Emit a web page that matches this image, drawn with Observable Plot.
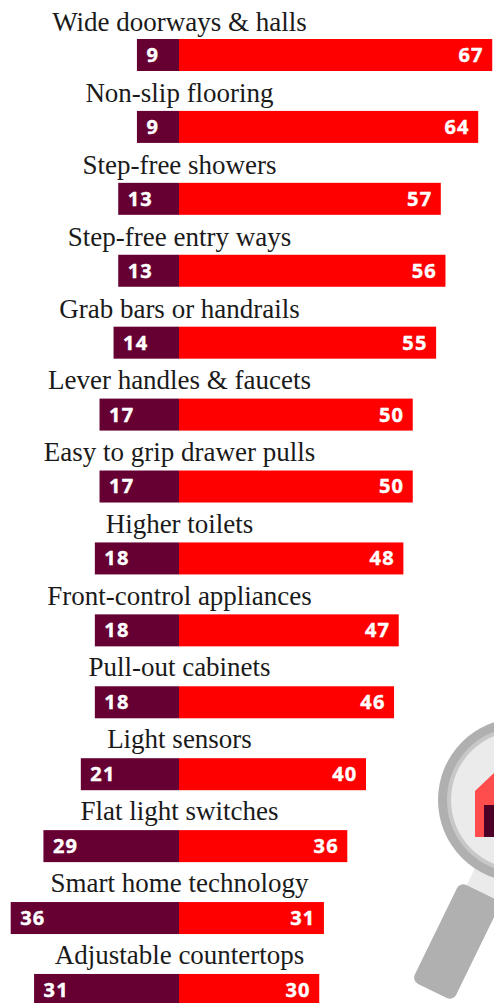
<!DOCTYPE html>
<html><head><meta charset="utf-8">
<script src="https://cdn.jsdelivr.net/npm/d3@7"></script>
<script src="https://cdn.jsdelivr.net/npm/@observablehq/plot@0.6"></script>
<style>html,body{margin:0;padding:0;background:#fff;overflow:hidden}
svg{display:block}
.num text{letter-spacing:1.2px}</style>
</head><body><div id="chart"></div>
<script>
const features=["Wide doorways & halls","Non-slip flooring","Step-free showers","Step-free entry ways","Grab bars or handrails","Lever handles & faucets","Easy to grip drawer pulls","Higher toilets","Front-control appliances","Pull-out cabinets","Light sensors","Flat light switches","Smart home technology","Adjustable countertops"];
const leftValues=[9,9,13,13,14,17,17,18,18,18,21,29,36,31];
// bar lengths as drawn in the picture (rows 3 and 4 are swapped against their printed labels)
const rightValues=[67,64,56,57,55,50,50,48,47,46,40,36,31,30];
const rightLabels=[67,64,57,56,55,50,50,48,47,46,40,36,31,30];
const rows=features.map((f,i)=>({f,i,l:leftValues[i],r:rightValues[i],rl:rightLabels[i]}));
const k=4.675, pitch=71.92, barTop=39, barH=32, textPitch=71.77;
const illustration=()=>{
 const g=d3.create("svg:g");
 g.append("rect").attr("transform","translate(479,860) rotate(26)").attr("width",50).attr("height",34).attr("fill","#ebebeb");
 g.append("rect").attr("transform","translate(460,882) rotate(26)").attr("width",46).attr("height",110).attr("rx",7).attr("fill","#b0b0b0");
 g.append("circle").attr("cx",520).attr("cy",800).attr("r",82).attr("fill","#b0b0b0");
 g.append("circle").attr("cx",520).attr("cy",800).attr("r",73).attr("fill","#c8c8c8");
 g.append("circle").attr("cx",520).attr("cy",800).attr("r",69).attr("fill","#ebebeb");
 g.append("polygon").attr("points","475,837 475,791 494,773 494,837").attr("fill","#ff4d4d");
 g.append("rect").attr("x",484).attr("y",805).attr("width",10).attr("height",32).attr("fill","#4d0026");
 return g.node();
};
const plot=Plot.plot({width:494,height:1003,margin:0,
 x:{domain:[-179/k,315/k],range:[0,494],axis:null},
 y:{domain:[0,1003/pitch],range:[0,1003],axis:null},
 marks:[
  illustration,
  Plot.rectX(rows,{x1:d=>-d.l,x2:0,y1:d=>d.i+barTop/pitch,y2:d=>d.i+(barTop+barH)/pitch,fill:"#660033",inset:0}),
  Plot.rectX(rows,{x1:0,x2:d=>d.r,y1:d=>d.i+barTop/pitch,y2:d=>d.i+(barTop+barH)/pitch,fill:"#ff0000",inset:0}),
  Plot.text(rows,{className:"num",x:d=>-d.l,y:d=>d.i+(barTop+barH/2)/pitch,text:d=>String(d.l),dx:9,textAnchor:"start",fill:"#fff",stroke:"#fff",strokeWidth:0.4,fontFamily:"Noto Sans",fontWeight:"bold",fontSize:20}),
  Plot.text(rows,{className:"num",x:d=>d.r,y:d=>d.i+(barTop+barH/2)/pitch,text:d=>String(d.rl),dx:-9,textAnchor:"end",fill:"#fff",stroke:"#fff",strokeWidth:0.4,fontFamily:"Noto Sans",fontWeight:"bold",fontSize:20}),
  Plot.text(rows,{x:0,y:d=>(21.4+textPitch*d.i)/pitch,text:"f",textAnchor:"middle",fill:"#1a1a1a",fontFamily:"Liberation Serif",fontSize:27})
 ]});
document.getElementById("chart").append(plot);
</script></body></html>
